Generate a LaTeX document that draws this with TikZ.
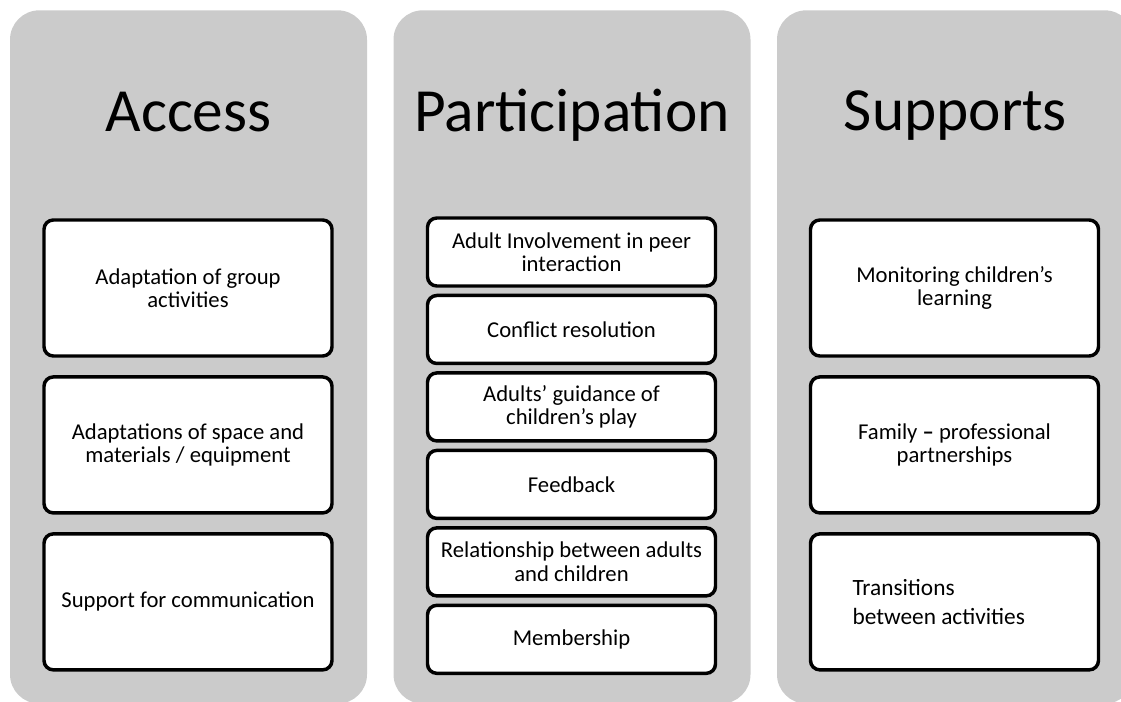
\documentclass[tikz,border=0pt]{standalone}
\usepackage{fontspec}
\setmainfont{Carlito}
\usetikzlibrary{positioning}

\definecolor{panelgray}{HTML}{CBCBCB}

\begin{document}
\begin{tikzpicture}[
    x=0.75pt, y=-0.75pt,
    node distance=13.1pt,
    panel/.style={rectangle, fill=panelgray, rounded corners=22pt, minimum width=267.75pt, minimum height=520pt, inner sep=0pt},
    heading/.style={anchor=base, font=\fontsize{46}{52}\selectfont},
    tallbox/.style={rectangle, draw, fill=white, line width=2.6pt, rounded corners=7pt, align=flush center,
        text width=205pt, minimum width=216pt, minimum height=102pt, font=\fontsize{17}{17.5}\selectfont},
    shortbox/.style={tallbox, minimum height=51pt}
]
\useasboundingbox (0,0) rectangle (1121,702);
\clip (0,0) rectangle (1121,702);

% the three grey columns
\node[panel] (accesscol) at (188.5,357) {};
\node[panel] (partcol) at (572,357) {};
\node[panel] (suppcol) at (955.5,357) {};

\node[heading] (access) at (188.5,132) {Access};
\node[heading] (participation) at (572,132) {Participation};
\node[heading] (supports) at (955.5,131) {Supports};

% Access
\node[tallbox] (groupact) at (188,288) {Adaptation of group\\activities};
\node[tallbox, below=of groupact] (space) {Adaptations of space and\\materials / equipment};
\node[tallbox, below=of space] (communication) {Support for communication};

% Participation
\begin{scope}[node distance=4.5pt]
\node[shortbox] (peer) at (571.5,252) {Adult Involvement in peer\\interaction};
\node[shortbox, below=of peer] (conflict) {Conflict resolution};
\node[shortbox, below=of conflict] (guidance) {Adults' guidance of\\children's play};
\node[shortbox, below=of guidance] (feedback) {Feedback};
\node[shortbox, below=of feedback] (relationship) {Relationship between adults\\and children};
\node[shortbox, below=of relationship] (membership) {Membership};
\end{scope}

% Supports
\node[tallbox] (monitoring) at (954.5,288) {Monitoring children's\\learning};
\node[tallbox, below=of monitoring] (family) {Family \textbf{--} professional\\partnerships};
\node[tallbox, below=of family, align=flush left, text width=153pt, font=\fontsize{17.5}{21.5}\selectfont] (transitions) {Transitions\\between activities};
\end{tikzpicture}
\end{document}
